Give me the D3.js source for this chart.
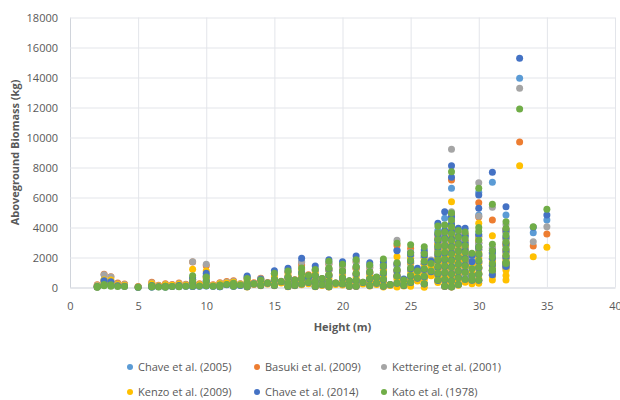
<!DOCTYPE html>
<html lang="en">
<head>
<meta charset="UTF-8">
<title>Aboveground biomass vs height</title>
<script src="https://cdnjs.cloudflare.com/ajax/libs/d3/7.8.5/d3.min.js"></script>
<style>
  body { margin: 0; background: #fff; }
  svg { font-family: "Open Sans", sans-serif; display: block; }
</style>
</head>
<body>
<div id="chart"></div>
<script>
// tree heights (m), one entry per tree
const heights = [
  2, 2, 2.5, 2.5, 3, 3, 3.5, 4, 5, 6, 6, 6.5, 7, 7, 7.5, 8, 8, 8.5,
  9, 9, 9, 9.5, 10, 10, 10, 10.5, 11, 11, 11.5, 12, 12, 12.5,
  13, 13, 13, 13.5, 14, 14, 14.5, 15, 15, 15, 15.5, 16, 16, 16, 16, 16.5, 16.5, 17, 17, 17, 17, 17.5, 17.5, 18, 18, 18, 18, 18.5, 18.5,
  19, 19, 19, 19, 19, 19.5, 20, 20, 20, 20, 20.5, 20.5, 21, 21, 21, 21, 21, 21.5, 22, 22, 22, 22, 22.5, 22.5, 23, 23, 23, 23, 23, 23.5,
  24, 24, 24, 24, 24, 24.5, 24.5, 25, 25, 25, 25, 25, 25, 25.5, 25.5, 26, 26, 26, 26, 26, 26, 26.5, 26.5,
  27, 27, 27, 27, 27, 27, 27, 27, 27, 27.5, 27.5, 27.5, 27.5, 27.5, 27.5, 27.5, 27.5, 27.5, 27.5,
  28, 28, 28, 28, 28, 28, 28, 28, 28, 28, 28, 28, 28, 28.5, 28.5, 28.5, 28.5, 28.5, 28.5, 28.5, 28.5, 28.5,
  29, 29, 29, 29, 29, 29, 29, 29, 29.5, 29.5, 29.5, 29.5,
  30, 30, 30, 30, 30, 30, 30, 30, 30, 30, 31, 31, 31, 31, 31, 31, 31,
  32, 32, 32, 32, 32, 32, 32, 32, 32, 33, 34, 35
];

// aboveground biomass (kg) per equation, same tree order as heights
const chave2005 = [
  80, 30, 500, 200, 400, 150, 120, 100, 20, 150, 40, 60, 100, 30, 80, 150, 60, 100,
  550, 300, 60, 100, 800, 400, 100, 80, 150, 50, 200, 250, 80, 150,
  700, 270, 50, 220, 500, 130, 260, 950, 480, 130, 350, 1100, 620, 260, 60, 450, 130, 1700, 900, 530, 210, 600, 300, 1200, 700, 350, 60, 520, 170,
  1650, 1150, 750, 350, 50, 260, 1500, 980, 560, 210, 400, 80, 1850, 1250, 830, 430, 80, 300, 1450, 930, 520, 120, 600, 260, 1550, 1250, 870, 470, 80, 170,
  2500, 1450, 1050, 700, 250, 480, 130, 2300, 2050, 1600, 1150, 700, 300, 1100, 560, 2300, 2000, 1550, 1100, 660, 210, 1700, 950,
  3800, 3200, 2800, 2400, 2000, 1600, 1200, 820, 420, 4610, 3400, 3000, 2550, 2100, 1700, 1300, 900, 480, 80,
  6610, 4800, 4250, 3800, 3400, 2950, 2500, 2100, 1700, 1250, 850, 420, 40, 3600, 3100, 2700, 2250, 1800, 1400, 1000, 600, 180,
  3500, 3050, 2600, 2200, 1750, 1350, 900, 500, 2000, 1500, 700, 450,
  6350, 4830, 3400, 2950, 2500, 2100, 1650, 1250, 850, 450, 7010, 2500, 2250, 1850, 1450, 1100, 800,
  4830, 3700, 3250, 2800, 2350, 1950, 1600, 1450, 1300, 13950, 3650, 4500
];
const basuki2009 = [
  180, 60, 880, 400, 720, 300, 300, 230, 60, 350, 100, 150, 250, 80, 200, 300, 120, 220,
  1700, 550, 150, 250, 1450, 700, 200, 180, 320, 100, 400, 450, 150, 250,
  600, 350, 70, 320, 620, 180, 330, 900, 520, 170, 420, 1000, 680, 300, 80, 520, 170, 1500, 900, 600, 260, 850, 370, 1100, 760, 400, 80, 600, 210,
  1550, 1150, 780, 380, 60, 300, 1400, 1000, 600, 250, 440, 100, 1700, 1280, 870, 470, 100, 350, 1300, 960, 560, 150, 660, 300, 1500, 1300, 900, 510, 100, 200,
  2800, 1550, 1100, 740, 290, 520, 150, 2600, 2150, 1650, 1200, 740, 320, 1050, 600, 2350, 2050, 1600, 1150, 700, 240, 1780, 1000,
  3500, 3300, 2900, 2500, 2100, 1700, 1300, 860, 460, 3680, 3500, 3050, 2600, 2150, 1750, 1350, 950, 520, 100,
  7170, 4900, 4300, 3850, 3450, 3000, 2550, 2150, 1750, 1300, 880, 440, 50, 3650, 3150, 2750, 2300, 1850, 1450, 1050, 650, 200,
  3550, 3100, 2650, 2250, 1800, 1400, 950, 520, 2100, 1450, 740, 470,
  5650, 4700, 3450, 3000, 2550, 2150, 1700, 1300, 880, 470, 4500, 2600, 2300, 1900, 1500, 1150, 850,
  3900, 3750, 3300, 2850, 2400, 2000, 1650, 1500, 1350, 9700, 2770, 3570
];
const kettering2001 = [
  150, 50, 850, 350, 700, 250, 230, 200, 40, 300, 80, 120, 200, 60, 160, 250, 100, 180,
  1720, 500, 120, 200, 1550, 750, 200, 150, 280, 90, 350, 400, 130, 230,
  650, 320, 60, 270, 580, 160, 300, 900, 500, 150, 380, 1050, 650, 280, 70, 470, 150, 1700, 880, 560, 240, 750, 340, 1150, 740, 370, 70, 550, 190,
  1600, 1150, 760, 360, 55, 280, 1400, 990, 580, 230, 420, 90, 1700, 1250, 850, 450, 90, 320, 1350, 940, 540, 140, 640, 280, 1500, 1280, 880, 490, 90, 190,
  3150, 1500, 1080, 720, 270, 500, 140, 2350, 2100, 1620, 1170, 720, 310, 1080, 580, 2300, 2000, 1570, 1120, 680, 230, 1830, 980,
  3600, 3250, 2850, 2450, 2050, 1650, 1250, 840, 440, 4150, 3450, 3000, 2560, 2120, 1720, 1320, 920, 500, 90,
  9210, 5050, 4250, 3800, 3400, 2950, 2500, 2100, 1700, 1250, 860, 430, 45, 3600, 3100, 2700, 2250, 1800, 1400, 1000, 620, 190,
  3500, 3050, 2600, 2200, 1750, 1350, 920, 510, 2050, 1400, 720, 460,
  6990, 4750, 3390, 2950, 2500, 2100, 1650, 1250, 860, 460, 5350, 2650, 2250, 1850, 1450, 1100, 820,
  4200, 3700, 3250, 2800, 2350, 1950, 1600, 1450, 1300, 13280, 3050, 4050
];
const kenzo2009 = [
  100, 40, 520, 350, 500, 250, 200, 150, 40, 250, 80, 100, 180, 60, 150, 220, 100, 150,
  1210, 450, 120, 180, 1100, 600, 180, 130, 250, 80, 300, 350, 120, 200,
  450, 250, 40, 200, 450, 120, 230, 700, 400, 110, 300, 800, 500, 220, 50, 380, 110, 1200, 680, 430, 180, 500, 250, 900, 560, 280, 50, 420, 140,
  1250, 870, 570, 270, 40, 200, 1100, 750, 450, 170, 320, 60, 1300, 950, 650, 340, 60, 240, 1000, 710, 400, 100, 470, 200, 1150, 980, 670, 370, 30, 130,
  2050, 1150, 830, 550, 40, 380, 100, 1950, 1650, 1250, 900, 550, 80, 820, 430, 1800, 1550, 1200, 850, 500, 20, 1400, 780,
  2900, 2600, 2250, 1950, 1600, 1300, 1000, 650, 330, 2790, 2800, 2400, 2000, 1650, 1300, 1000, 700, 380, 60,
  5720, 3900, 3400, 3050, 2700, 2350, 2000, 1700, 1350, 1000, 650, 330, 40, 2850, 2500, 2150, 1800, 1450, 1100, 800, 480, 150,
  2800, 2450, 2100, 1750, 1400, 1050, 500, 350, 1600, 1100, 400, 250,
  4280, 3200, 2700, 2300, 1950, 1600, 1300, 950, 600, 280, 3450, 1900, 1700, 1400, 1100, 800, 500,
  3000, 2850, 2500, 2150, 1800, 1500, 1150, 800, 500, 8120, 2050, 2680
];
const chave2014 = [
  70, 30, 450, 180, 380, 130, 110, 90, 20, 140, 40, 50, 90, 30, 70, 140, 60, 90,
  650, 350, 70, 90, 950, 450, 120, 80, 150, 50, 180, 250, 80, 140,
  770, 280, 50, 230, 550, 140, 280, 1120, 520, 140, 380, 1280, 680, 280, 70, 480, 140, 1950, 1000, 580, 230, 650, 330, 1430, 780, 380, 70, 560, 190,
  1850, 1250, 820, 380, 50, 280, 1720, 1080, 620, 230, 430, 90, 2100, 1380, 920, 470, 90, 330, 1650, 1030, 570, 140, 660, 280, 1720, 1400, 950, 520, 90, 180,
  2450, 1600, 1150, 800, 280, 560, 140, 2300, 2200, 1750, 1250, 760, 330, 1280, 620, 2500, 2150, 1700, 1200, 720, 240, 1750, 1050,
  4280, 3550, 3100, 2650, 2200, 1800, 1350, 900, 470, 5050, 3800, 3300, 2800, 2300, 1850, 1400, 980, 520, 90,
  8120, 7350, 4700, 4200, 3750, 3250, 2750, 2300, 1850, 1400, 930, 460, 50, 3950, 3400, 2950, 2450, 2000, 1550, 1100, 680, 200,
  3950, 3400, 2900, 2450, 1950, 1500, 1050, 550, 2150, 1720, 780, 480,
  6170, 5280, 3550, 2720, 2650, 2200, 1750, 1320, 900, 480, 7680, 2450, 2350, 1950, 1500, 1150, 850,
  5390, 3850, 3400, 2950, 2500, 2050, 1650, 1500, 1400, 15280, 4020, 4830
];
const kato1978 = [
  60, 20, 200, 120, 180, 90, 60, 70, 10, 120, 30, 40, 80, 20, 60, 100, 50, 80,
  780, 420, 80, 100, 700, 400, 120, 90, 170, 60, 200, 280, 90, 170,
  600, 300, 60, 250, 500, 150, 300, 950, 550, 150, 400, 1100, 700, 300, 80, 500, 150, 1300, 950, 600, 250, 800, 350, 1200, 800, 400, 80, 600, 200,
  1750, 1300, 850, 400, 60, 300, 1550, 1100, 650, 250, 450, 100, 1850, 1400, 950, 500, 100, 350, 1500, 1050, 600, 150, 700, 300, 1900, 1450, 1000, 550, 100, 200,
  2950, 1650, 1200, 750, 300, 500, 150, 2850, 2300, 1800, 1300, 800, 350, 1100, 650, 2720, 2250, 1750, 1250, 750, 250, 1600, 1100,
  4100, 3650, 3200, 2750, 2300, 1850, 1400, 950, 500, 4170, 3700, 3250, 2800, 2350, 1900, 1450, 1000, 550, 100,
  7720, 4970, 4500, 4050, 3600, 3150, 2700, 2250, 1800, 1350, 900, 450, 50, 3800, 3350, 2900, 2450, 2000, 1550, 1100, 650, 200,
  3700, 3250, 2800, 2350, 1900, 1450, 1000, 550, 2280, 1250, 800, 500,
  6610, 4000, 3750, 3150, 2700, 2250, 1800, 1350, 900, 500, 5550, 2880, 2450, 2050, 1600, 1200, 1150,
  4390, 3950, 3500, 3050, 2600, 2150, 1700, 1650, 1600, 11900, 4050, 5210
];

const seriesNames = ["Chave et al. (2005)", "Basuki et al. (2009)", "Kettering et al. (2001)",
                     "Kenzo et al. (2009)", "Chave et al. (2014)", "Kato et al. (1978)"];
const seriesColors = ["#5b9bd5", "#ed7d31", "#a5a5a5", "#ffc000", "#4472c4", "#70ad47"];
const seriesValues = [chave2005, basuki2009, kettering2001, kenzo2009, chave2014, kato1978];

const xTicks = [0, 5, 10, 15, 20, 25, 30, 35, 40];
const yTicks = [0, 2000, 4000, 6000, 8000, 10000, 12000, 14000, 16000, 18000];

seriesValues.forEach((v, i) => {
  if (v.length !== heights.length) throw new Error(seriesNames[i] + " has " + v.length + " values, heights has " + heights.length);
});

const W = 620, H = 400;
const plotLeft = 70, plotRight = 615, plotTop = 17.5, plotBottom = 287.5;
const textColor = "#595959";

const svg = d3.select("#chart").append("svg")
  .attr("width", W)
  .attr("height", H);

const x = d3.scaleLinear().domain([0, 40]).range([plotLeft, plotRight]);
const y = d3.scaleLinear().domain([0, 18000]).range([plotBottom, plotTop]);

// gridlines + labels via the axes
const xAxis = svg.append("g")
  .attr("transform", `translate(0,${plotBottom})`)
  .call(d3.axisBottom(x).tickValues(xTicks).tickSize(-(plotBottom - plotTop)).tickSizeOuter(0).tickPadding(14.5));

const yAxis = svg.append("g")
  .attr("transform", `translate(${plotLeft},0)`)
  .call(d3.axisLeft(y).tickValues(yTicks).tickSize(-(plotRight - plotLeft)).tickSizeOuter(0).tickPadding(12).tickFormat(d3.format("d")));

[xAxis, yAxis].forEach(g => {
  g.selectAll(".tick line").attr("stroke", "#e3e5ea").attr("stroke-width", 1);
  g.select(".domain").attr("stroke", "#d0d4db");
  g.selectAll(".tick text")
    .attr("fill", textColor)
    .style("font-size", "11px")
    .style("font-family", "'Open Sans', sans-serif");
});

// points, series drawn in legend order so Kato ends on top
seriesValues.forEach((vals, s) => {
  svg.append("g")
    .selectAll("circle")
    .data(heights.map((h, i) => ({ h: h, v: vals[i] })))
    .join("circle")
    .attr("cx", d => x(d.h))
    .attr("cy", d => y(d.v))
    .attr("r", 3.5)
    .attr("fill", seriesColors[s]);
});

// axis titles
svg.append("text")
  .attr("x", (plotLeft + plotRight) / 2)
  .attr("y", 331)
  .attr("text-anchor", "middle")
  .attr("fill", textColor)
  .style("font-size", "11px")
  .style("font-weight", "bold")
  .text("Height (m)");

svg.append("text")
  .attr("transform", `translate(19,${(plotTop + plotBottom) / 2}) rotate(-90)`)
  .attr("text-anchor", "middle")
  .attr("fill", textColor)
  .style("font-size", "11px")
  .style("font-weight", "bold")
  .text("Aboveground Biomass (kg)");

// legend, two rows of three
const legendX = [130, 257, 384];
const legendY = [367, 392];

const legend = svg.append("g")
  .selectAll("g")
  .data(seriesNames)
  .join("g")
  .attr("transform", (d, i) => `translate(${legendX[i % 3]},${legendY[Math.floor(i / 3)]})`);

legend.append("circle")
  .attr("r", 3)
  .attr("fill", (d, i) => seriesColors[i]);

legend.append("text")
  .attr("x", 8)
  .attr("dy", "0.35em")
  .attr("fill", textColor)
  .style("font-size", "11px")
  .text(d => d);
</script>
</body>
</html>
